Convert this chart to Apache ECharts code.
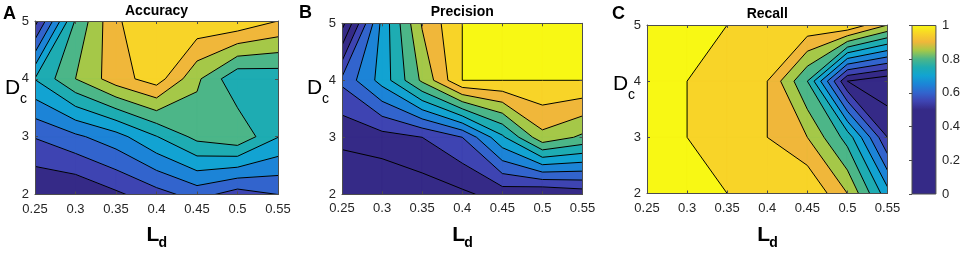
<!DOCTYPE html>
<html>
<head>
<meta charset="utf-8">
<script src="https://cdn.jsdelivr.net/npm/echarts@6/dist/echarts.min.js"></script>
<style>
  html, body { margin: 0; padding: 0; background: #fff; }
  #chart { width: 963px; height: 253px; }
</style>
</head>
<body>
<div id="chart"></div>
<script>
// 网格坐标
var ldValues = [0.25, 0.3, 0.35, 0.4, 0.45, 0.5, 0.55];
var dcValues = [2, 3, 4, 5];

// 每一行对应一个 Dc (2 -> 5)，每一列对应一个 Ld
var accuracy = [
  [0.50, 0.502, 0.54, 0.58, 0.62, 0.575, 0.60],
  [0.603, 0.64, 0.68, 0.748, 0.815, 0.84, 0.752],
  [0.752, 0.85, 0.928, 0.975, 0.86, 0.76, 0.767],
  [0.53, 0.806, 0.945, 0.98, 0.99, 0.99, 0.95]
];
var precision = [
  [0.46, 0.45, 0.47, 0.49, 0.52, 0.50, 0.52],
  [0.511, 0.53, 0.55, 0.60, 0.74, 0.885, 0.84],
  [0.611, 0.72, 0.86, 1, 1, 1, 1],
  [0.43, 0.715, 0.905, 1, 1, 1, 1]
];
var recall = [
  [1, 1, 1, 0.98, 1, 0.90, 0.72],
  [1, 1, 0.97, 0.95, 0.90, 0.78, 0.55],
  [1, 1, 0.97, 0.95, 0.80, 0.50, 0.46],
  [1, 1, 1, 0.98, 0.9875, 0.995, 0.90]
];

var panelTitles = ['Accuracy', 'Precision', 'Recall'];
var panelLetters = ['A', 'B', 'C'];
var colorbarTicks = [0, 0.2, 0.4, 0.6, 0.8, 1];

// 等值线的值
var levels = [];
for (var k = 30; k <= 100; k += 5) levels.push(k / 100);

// 色表：值 -> 颜色 (0.5 以下都是深蓝)
var colorStops = [
  [0.50, 53, 42, 135], [0.55, 62, 68, 178], [0.60, 50, 100, 205],
  [0.65, 28, 132, 215], [0.70, 18, 163, 210], [0.75, 30, 172, 178],
  [0.80, 76, 182, 136], [0.85, 165, 200, 72], [0.90, 240, 183, 58],
  [0.95, 248, 212, 40], [1.00, 248, 248, 20]
];

function valueColor(v) {
  if (v <= colorStops[0][0]) return 'rgb(53,42,135)';
  for (var i = 1; i < colorStops.length; i++) {
    var a = colorStops[i - 1], b = colorStops[i];
    if (v <= b[0] + 1e-9) {
      var f = Math.min(1, (v - a[0]) / (b[0] - a[0]));
      return 'rgb(' + [1, 2, 3].map(function (c) {
        return Math.round(a[c] + f * (b[c] - a[c]));
      }).join(',') + ')';
    }
  }
  return 'rgb(248,248,20)';
}

// 把网格拆成单元格
function buildCells(grid) {
  var cells = [];
  for (var j = 0; j < dcValues.length - 1; j++) {
    for (var i = 0; i < ldValues.length - 1; i++) {
      cells.push([ldValues[i], dcValues[j], ldValues[i + 1], dcValues[j + 1],
        grid[j][i], grid[j][i + 1], grid[j + 1][i + 1], grid[j + 1][i]]);
    }
  }
  return cells;
}

// 按等值线从低到高排列，后画的覆盖先画的
function buildFillItems(cells) {
  var items = [];
  [0].concat(levels).forEach(function (L) {
    cells.forEach(function (c) {
      if (Math.max(c[4], c[5], c[6], c[7]) >= L) items.push(c.concat([L]));
    });
  });
  return items;
}

function cellCorners(api) {
  var x0 = api.value(0), y0 = api.value(1), x1 = api.value(2), y1 = api.value(3);
  return [
    { x: x0, y: y0, v: api.value(4) },
    { x: x1, y: y0, v: api.value(5) },
    { x: x1, y: y1, v: api.value(6) },
    { x: x0, y: y1, v: api.value(7) }
  ];
}

// 取 v >= L 的部分
function clipAbove(pts, L) {
  var out = [];
  for (var k = 0; k < pts.length; k++) {
    var p = pts[k], q = pts[(k + 1) % pts.length];
    var pin = p.v >= L, qin = q.v >= L;
    if (pin) out.push(p);
    if (pin !== qin) {
      var t = (L - p.v) / (q.v - p.v);
      out.push({ x: p.x + t * (q.x - p.x), y: p.y + t * (q.y - p.y), v: L });
    }
  }
  return out;
}

function contourSegs(pts, L) {
  var cross = [];
  for (var k = 0; k < pts.length; k++) {
    var p = pts[k], q = pts[(k + 1) % pts.length];
    var pin = p.v >= L, qin = q.v >= L;
    if (pin !== qin) {
      var t = (L - p.v) / (q.v - p.v);
      cross.push({ x: p.x + t * (q.x - p.x), y: p.y + t * (q.y - p.y), exit: pin });
    }
  }
  var segs = [];
  for (var a = 0; a < cross.length; a++) {
    if (!cross[a].exit) continue;
    for (var b = 1; b < cross.length; b++) {
      var c = cross[(a + b) % cross.length];
      if (!c.exit) { segs.push([cross[a], c]); break; }
    }
  }
  return segs;
}

function renderFill(params, api) {
  var L = api.value(8);
  var poly = clipAbove(cellCorners(api), L);
  if (poly.length < 3) return;
  var col = valueColor(L);
  return {
    type: 'polygon',
    shape: { points: poly.map(function (p) { return api.coord([p.x, p.y]); }) },
    style: { fill: col, stroke: col, lineWidth: 0.7 }
  };
}

function renderLines(params, api) {
  var corners = cellCorners(api);
  var children = [];
  levels.forEach(function (L) {
    contourSegs(corners, L).forEach(function (s) {
      var p1 = api.coord([s[0].x, s[0].y]), p2 = api.coord([s[1].x, s[1].y]);
      children.push({ type: 'line',
        shape: { x1: p1[0], y1: p1[1], x2: p2[0], y2: p2[1] },
        style: { stroke: '#000', lineWidth: 1 } });
    });
  });
  return { type: 'group', children: children };
}

var chart = echarts.init(document.getElementById('chart'));
var fontFamily = '"Liberation Sans", Arial, sans-serif';
var axisColor = '#4d4d4d';
var textColor = '#262626';

var panels = [
  { left: 35, top: 21, width: 243, height: 173.5, data: accuracy, titleY: 11, dY: 88, cX: 5 },
  { left: 342, top: 23.3, width: 240.5, height: 171, data: precision, titleY: 12, dY: 88, cX: 307 },
  { left: 647, top: 25, width: 240.5, height: 168.5, data: recall, titleY: 14.5, dY: 84, cX: 613 }
];
var letterPos = [[3, 14], [299, 13], [612, 14]];

var grids = [], xAxes = [], yAxes = [], series = [], graphics = [];

panels.forEach(function (p, idx) {
  grids.push({ left: p.left, top: p.top, width: p.width, height: p.height });
  var xBase = {
    gridIndex: idx, type: 'value', min: 0.25, max: 0.55, interval: 0.05, z: 10,
    axisLine: { show: true, lineStyle: { color: axisColor, width: 1 } },
    axisTick: { show: true, inside: true, length: 3, lineStyle: { color: axisColor } },
    splitLine: { show: false }
  };
  var yBase = {
    gridIndex: idx, type: 'value', min: 2, max: 5, interval: 1, z: 10,
    axisLine: { show: true, lineStyle: { color: axisColor, width: 1 } },
    axisTick: { show: true, inside: true, length: 3, lineStyle: { color: axisColor } },
    splitLine: { show: false }
  };
  xAxes.push(Object.assign({}, xBase, {
    position: 'bottom',
    axisLabel: { color: textColor, fontSize: 13, fontFamily: fontFamily, margin: 8,
      formatter: function (v) { return String(Math.round(v * 100) / 100); } }
  }));
  xAxes.push(Object.assign({}, xBase, { position: 'top', axisLabel: { show: false } }));
  yAxes.push(Object.assign({}, yBase, {
    position: 'left',
    axisLabel: { color: textColor, fontSize: 13, fontFamily: fontFamily, margin: 6 }
  }));
  yAxes.push(Object.assign({}, yBase, { position: 'right', axisLabel: { show: false } }));

  var cells = buildCells(p.data);
  series.push({
    type: 'custom', xAxisIndex: idx * 2, yAxisIndex: idx * 2, data: buildFillItems(cells),
    renderItem: renderFill, clip: true, silent: true, z: 2
  });
  series.push({
    type: 'custom', xAxisIndex: idx * 2, yAxisIndex: idx * 2, data: cells,
    renderItem: renderLines, clip: true, silent: true, z: 3
  });

  var cx = p.left + p.width / 2;
  // 标题
  graphics.push({ type: 'text', x: cx, y: p.titleY, style: {
    text: panelTitles[idx], fontSize: 14, fontWeight: 'bold', fontFamily: fontFamily,
    fill: '#000', align: 'center', verticalAlign: 'middle' } });
  graphics.push({ type: 'text', x: letterPos[idx][0], y: letterPos[idx][1], style: {
    text: panelLetters[idx], fontSize: 18, fontWeight: 'bold', fontFamily: fontFamily,
    fill: '#000', align: 'left', verticalAlign: 'middle' } });
  // 坐标轴名称 D_c, L_d
  graphics.push({ type: 'text', x: p.cX, y: p.dY, style: {
    text: 'D', fontSize: 21, fontFamily: fontFamily, fill: '#000',
    align: 'left', verticalAlign: 'middle' } });
  graphics.push({ type: 'text', x: p.cX + 15, y: p.dY + 11, style: {
    text: 'c', fontSize: 14, fontFamily: fontFamily, fill: '#000',
    align: 'left', verticalAlign: 'middle' } });
  graphics.push({ type: 'text', x: cx - 10, y: 235, style: {
    text: 'L', fontSize: 21, fontWeight: 'bold', fontFamily: fontFamily, fill: '#000',
    align: 'left', verticalAlign: 'middle' } });
  graphics.push({ type: 'text', x: cx + 2, y: 243, style: {
    text: 'd', fontSize: 14, fontWeight: 'bold', fontFamily: fontFamily, fill: '#000',
    align: 'left', verticalAlign: 'middle' } });
});

// 色条
grids.push({ left: 912, top: 25.5, width: 25, height: 168.5 });
xAxes.push({ gridIndex: 3, type: 'value', min: 0, max: 1, show: false });
yAxes.push({
  gridIndex: 3, type: 'value', min: 0, max: 1, interval: 0.2, position: 'right', z: 10,
  axisLine: { show: false },
  axisTick: { show: true, inside: true, length: 3, lineStyle: { color: axisColor } },
  splitLine: { show: false },
  axisLabel: { color: textColor, fontSize: 13, fontFamily: fontFamily, margin: 6,
    formatter: function (v) {
      var r = Math.round(v * 10) / 10;
      return colorbarTicks.indexOf(r) >= 0 ? String(r) : '';
    } }
});
var cbStops = [];
for (var s = 0; s <= 100; s += 1) cbStops.push({ offset: s / 100, color: valueColor(s / 100) });
series.push({
  type: 'custom', xAxisIndex: 6, yAxisIndex: 6, data: [[0, 1]], silent: true, z: 2,
  renderItem: function (params, api) {
    var p0 = api.coord([0, api.value(0)]);
    var p1 = api.coord([1, api.value(1)]);
    return {
      type: 'rect',
      shape: { x: p0[0], y: p1[1], width: p1[0] - p0[0], height: p0[1] - p1[1] },
      style: {
        fill: new echarts.graphic.LinearGradient(0, 1, 0, 0, cbStops),
        stroke: axisColor, lineWidth: 1
      }
    };
  }
});

chart.setOption({
  animation: false,
  backgroundColor: '#fff',
  grid: grids,
  xAxis: xAxes,
  yAxis: yAxes,
  series: series,
  graphic: graphics
});
</script>
</body>
</html>
